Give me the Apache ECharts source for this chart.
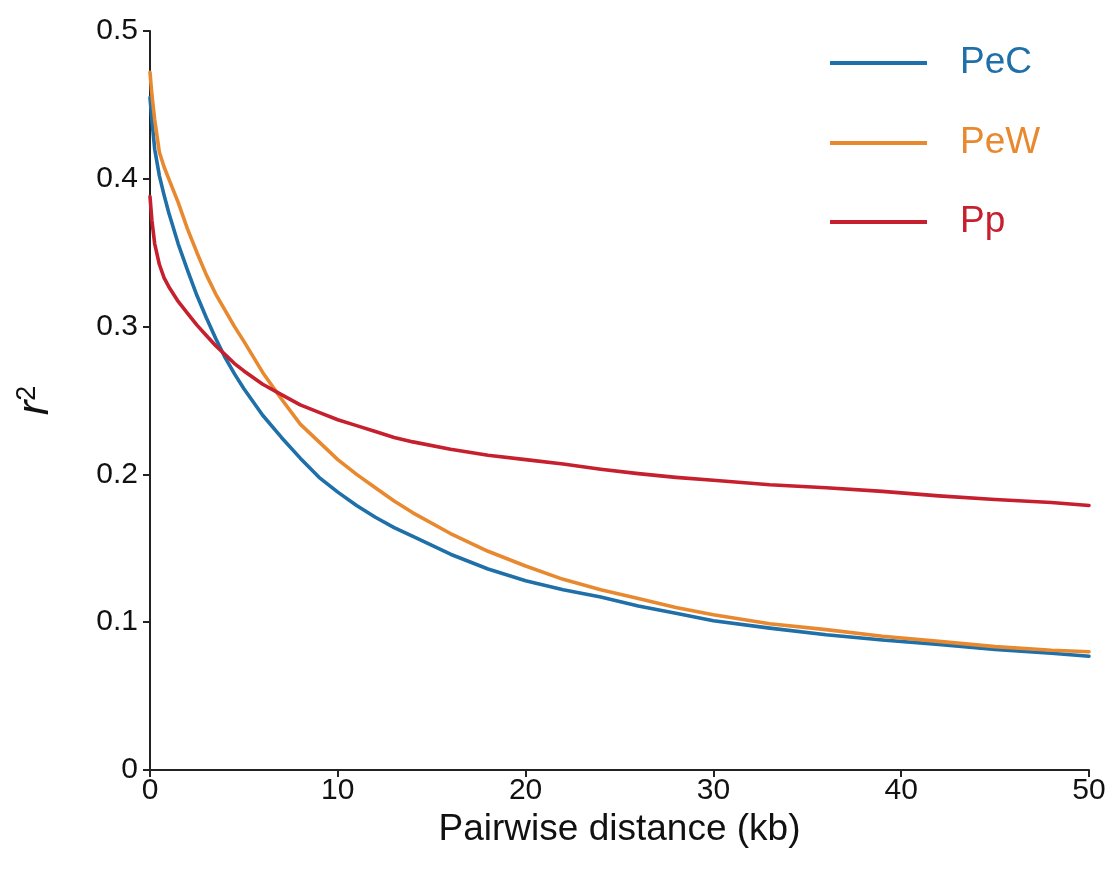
<!DOCTYPE html>
<html>
<head>
<meta charset="utf-8">
<script src="https://cdn.jsdelivr.net/npm/echarts@6/dist/echarts.min.js"></script>
<style>
  html, body { margin: 0; padding: 0; background: #ffffff; }
  #chart { width: 1118px; height: 873px; }
</style>
</head>
<body>
<div id="chart"></div>
<script>
// Pairwise distance (kb)
const distanceKb = [0, 0.1, 0.25, 0.5, 0.75, 1, 1.5, 2, 2.5, 3, 3.5, 4, 4.5, 5, 6, 7, 8, 9, 10, 11, 12, 13, 14, 16, 18, 20, 22, 24, 26, 28, 30, 33, 36, 39, 42, 45, 48, 50];
// r^2 values
const pecValues = [0.455, 0.440, 0.420, 0.402, 0.389, 0.377, 0.356, 0.338, 0.321, 0.306, 0.292, 0.279, 0.268, 0.258, 0.240, 0.225, 0.211, 0.198, 0.188, 0.179, 0.171, 0.164, 0.158, 0.146, 0.136, 0.128, 0.122, 0.117, 0.111, 0.106, 0.101, 0.096, 0.0915, 0.088, 0.085, 0.0815, 0.079, 0.077];
const pewValues = [0.472, 0.457, 0.440, 0.418, 0.408, 0.400, 0.384, 0.366, 0.350, 0.335, 0.322, 0.311, 0.300, 0.290, 0.269, 0.251, 0.234, 0.222, 0.210, 0.200, 0.191, 0.182, 0.174, 0.160, 0.148, 0.138, 0.129, 0.122, 0.116, 0.110, 0.105, 0.099, 0.095, 0.0905, 0.087, 0.0835, 0.081, 0.080];
const ppValues  = [0.388, 0.372, 0.356, 0.342, 0.333, 0.327, 0.317, 0.309, 0.301, 0.294, 0.287, 0.281, 0.275, 0.270, 0.261, 0.254, 0.247, 0.242, 0.237, 0.233, 0.229, 0.225, 0.222, 0.217, 0.213, 0.210, 0.207, 0.2035, 0.2005, 0.198, 0.196, 0.193, 0.191, 0.1885, 0.1855, 0.183, 0.181, 0.179];
const seriesNames = ['PeC', 'PeW', 'Pp'];
const xTicks = [0, 10, 20, 30, 40, 50];
const yTicks = [0, 0.1, 0.2, 0.3, 0.4, 0.5];

const colors = { PeC: '#1f6fa9', PeW: '#e8892f', Pp: '#c61f2e' };
const valuesByName = { PeC: pecValues, PeW: pewValues, Pp: ppValues };
const font = 'Liberation Sans, Arial, Helvetica, sans-serif';

const chart = echarts.init(document.getElementById('chart'), null, { renderer: 'canvas' });

const legendTops = [43, 123, 202];
const legends = seriesNames.map((n, i) => ({
  orient: 'vertical',
  left: 830,
  top: legendTops[i],
  padding: 0,
  icon: 'rect',
  itemWidth: 97,
  itemHeight: 4,
  selectedMode: false,
  data: [{ name: n, textStyle: { color: colors[n] } }],
  textStyle: { fontFamily: font, fontSize: 37, lineHeight: 40, padding: [0, 0, 0, 28] }
}));

const option = {
  backgroundColor: '#ffffff',
  animation: false,
  legend: legends,
  grid: { left: 150, right: 29, top: 31, bottom: 103, containLabel: false },
  xAxis: {
    type: 'value',
    min: xTicks[0],
    max: xTicks[xTicks.length - 1],
    interval: 10,
    name: 'Pairwise distance (kb)',
    nameLocation: 'middle',
    nameGap: 38,
    nameTextStyle: { fontFamily: font, fontSize: 37, color: '#111' },
    axisLine: { show: true, onZero: false, lineStyle: { color: '#222', width: 2 } },
    axisTick: { show: true, inside: false, length: 7, lineStyle: { color: '#222', width: 2 } },
    axisLabel: { fontFamily: font, fontSize: 30, color: '#111', margin: 6 },
    splitLine: { show: false }
  },
  yAxis: {
    type: 'value',
    min: yTicks[0],
    max: yTicks[yTicks.length - 1],
    interval: 0.1,
    name: '{i|r}{s|2}',
    nameLocation: 'middle',
    nameRotate: 90,
    nameGap: 92,
    nameTextStyle: {
      rich: {
        i: { fontFamily: font, fontSize: 44, fontStyle: 'italic', color: '#111' },
        s: { fontFamily: font, fontSize: 27, color: '#111', verticalAlign: 'top', padding: [0, 0, 16, 0] }
      }
    },
    axisLine: { show: true, lineStyle: { color: '#222', width: 2 } },
    axisTick: { show: true, inside: false, length: 7, lineStyle: { color: '#222', width: 2 } },
    axisLabel: { fontFamily: font, fontSize: 30, color: '#111', margin: 12 },
    splitLine: { show: false }
  },
  series: seriesNames.map(n => ({
    name: n,
    type: 'line',
    showSymbol: false,
    symbol: 'none',
    smooth: false,
    lineStyle: { color: colors[n], width: 3.6, join: 'round', cap: 'round' },
    itemStyle: { color: colors[n] },
    data: distanceKb.map((d, i) => [d, valuesByName[n][i]])
  }))
};
chart.setOption(option);
</script>
</body>
</html>
